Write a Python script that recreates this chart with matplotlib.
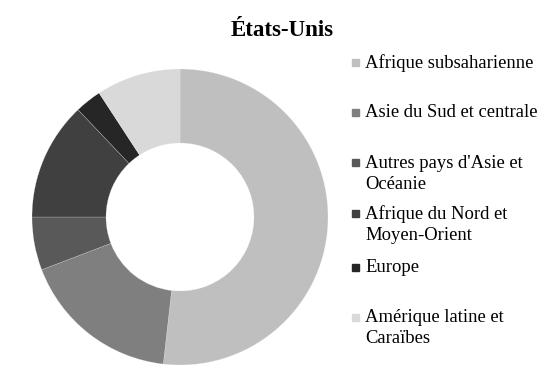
import matplotlib
matplotlib.use("Agg")
import matplotlib.pyplot as plt
from matplotlib.patches import Rectangle

plt.rcParams['font.family'] = ['Liberation Serif', 'DejaVu Serif']

# data (shares, %)
regions = ["Afrique subsaharienne", "Asie du Sud et centrale",
           "Autres pays d'Asie et\nOcéanie", "Afrique du Nord et\nMoyen-Orient",
           "Europe", "Amérique latine et\nCaraïbes"]
shares = [51.8, 17.4, 5.8, 12.9, 2.9, 9.2]
colors = ["#bfbfbf", "#7f7f7f", "#595959", "#404040", "#262626", "#d9d9d9"]
title = "États-Unis"

W, H = 560, 391
fig = plt.figure(figsize=(W / 100, H / 100), dpi=100)

# donut, centre ~ (180, 217) px, radius ~ 148 px
cx, cy, r = 180, 217, 148
ax = fig.add_axes([(cx - r) / W, (H - cy - r) / H, 2 * r / W, 2 * r / H])
ax.pie(shares, colors=colors, startangle=90, counterclock=False,
       wedgeprops=dict(width=0.5, edgecolor='#f0f0f0', linewidth=0.15))
ax.set_xlim(-1, 1)
ax.set_ylim(-1, 1)
ax.set_aspect('equal')

fig.text(282 / W, 1 - 30 / H, title, ha='center', va='center',
         fontsize=16.5, fontweight='bold')

# legend, drawn by hand to follow the spread-out layout
legend_y = [62, 112, 163, 213, 267, 317]
for lab, col, y in zip(regions, colors, legend_y):
    fig.patches.append(Rectangle(((352) / W, 1 - (y + 3.5) / H), 7 / W, 7 / H,
                                 transform=fig.transFigure, color=col))
    fig.text(365 / W, 1 - (y - 8) / H, lab, ha='left', va='top',
             fontsize=13.4, linespacing=1.3)

fig.savefig("out.png", dpi=100)
